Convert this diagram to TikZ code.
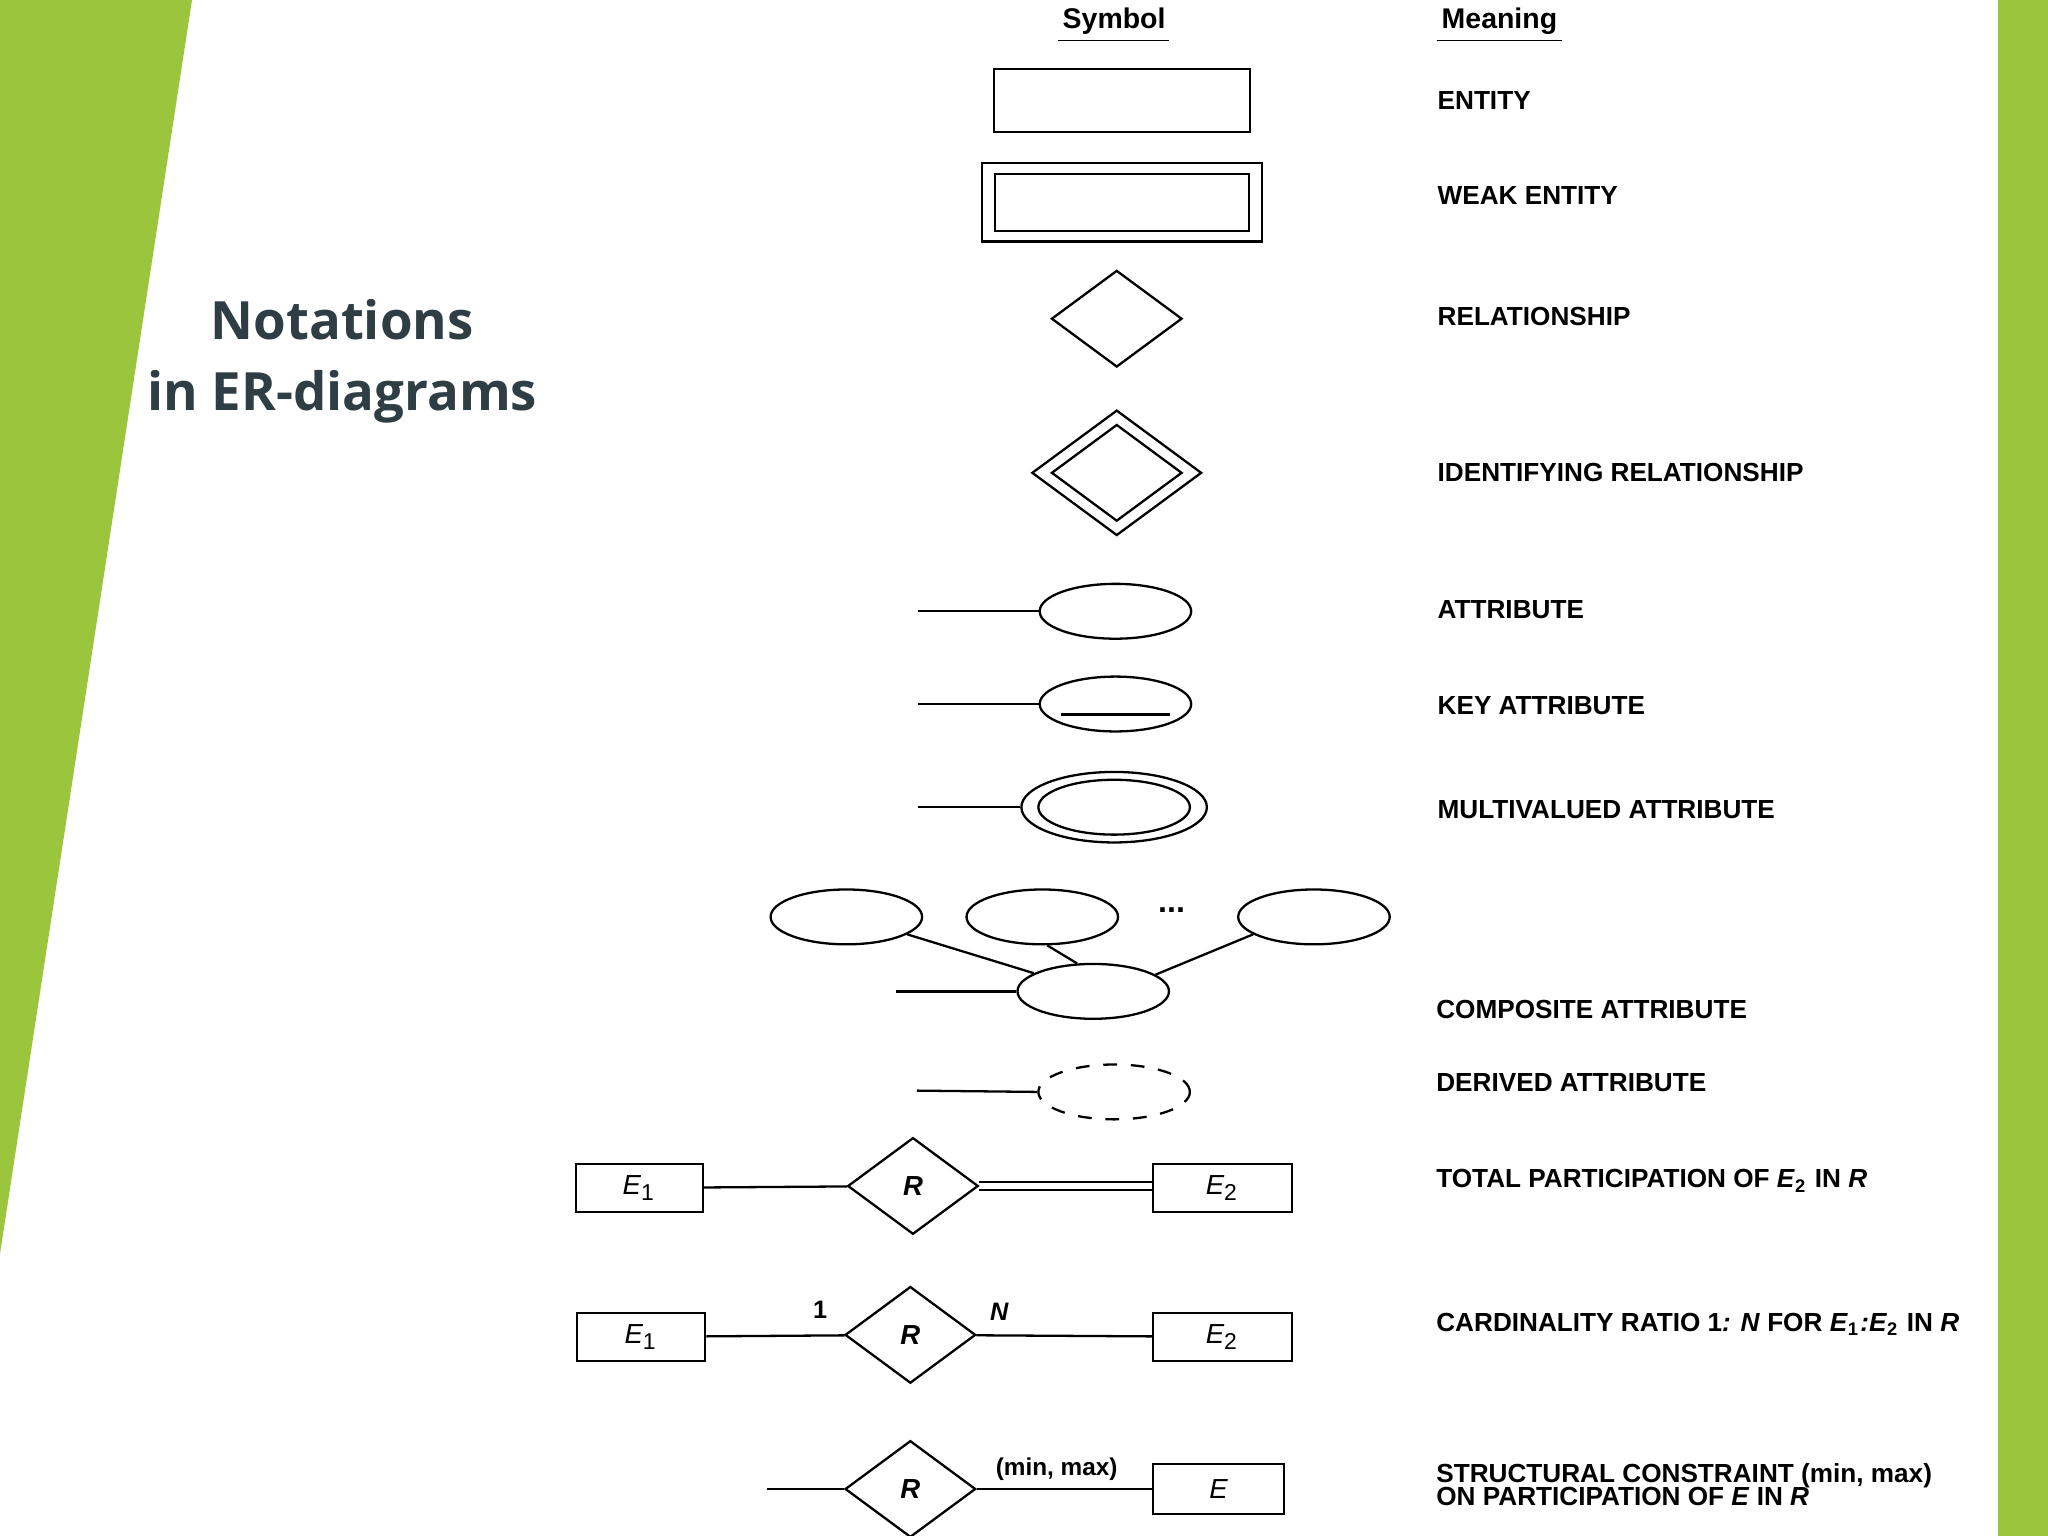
\documentclass[tikz,border=0pt]{standalone}
\usepackage{fontspec}
\setmainfont{Liberation Sans}
\newfontfamily\titlefont{Open Sans}
\usetikzlibrary{shapes.geometric}
\definecolor{lgreen}{HTML}{9BC53D}
\definecolor{slate}{HTML}{2E3E44}
\newcommand{\Eone}{\textit{E}\textsubscript{\upshape 1}}
\newcommand{\Etwo}{\textit{E}\textsubscript{\upshape 2}}
\tikzset{
 mean/.style={anchor=west,font=\fontsize{5.7}{6.5}\selectfont\bfseries,inner sep=0},
 sym/.style={draw,line width=0.5pt},
 ell/.style={sym,ellipse,minimum width=11.6mm,minimum height=4.2mm,inner sep=0},
 dia/.style={sym,diamond,minimum width=10mm,minimum height=7.4mm,inner sep=0,font=\fontsize{6}{7}\selectfont\bfseries\itshape},
 ebox/.style={sym,font=\fontsize{6}{7}\selectfont\itshape,inner sep=0},
}
\begin{document}
\begin{tikzpicture}[x=0.1mm,y=-0.1mm]
\useasboundingbox (0,0) rectangle (1568,1176);
\fill[lgreen] (0,0)--(147,0)--(0,960)--cycle;
\fill[lgreen] (1530,0) rectangle (1568,1176);
\node[text=slate,font=\titlefont\fontsize{11.5}{13}\selectfont\bfseries] (t1) at (262,245) {Notations};
\node[text=slate,font=\titlefont\fontsize{11.5}{13}\selectfont\bfseries] (t2) at (262,304) {in ER-diagrams};
% headers
\node[font=\fontsize{6.2}{7}\selectfont\bfseries] (hs) at (853,16) {Symbol};
\draw (810,31)--(895,31);
\node[font=\fontsize{6.2}{7}\selectfont\bfseries] (hm) at (1148,16) {Meaning};
\draw (1100,31)--(1196,31);
% entity
\draw[sym] (761,53) rectangle (957,101);
\draw[sym] (752,125) rectangle (966,185);
\draw[sym] (762,133) rectangle (956,177);
\node[dia] (r1) at (855,244) {};
\node[sym,diamond,minimum width=13mm,minimum height=9.6mm,inner sep=0] (r2o) at (855,362) {};
\node[sym,diamond,minimum width=10mm,minimum height=7.4mm,inner sep=0] (r2i) at (855,362) {};
% attributes
\node[ell] (a1) at (854,468) {};
\coordinate (a1l) at (703,468); \draw[sym] (a1l)--(a1.west);
\node[ell] (a2) at (854,539) {};
\draw[sym] (812,547)--(896,547);
\coordinate (a2l) at (703,539); \draw[sym] (a2l)--(a2.west);
\node[sym,ellipse,minimum width=14.2mm,minimum height=5.4mm,inner sep=0] (a3) at (853,618) {};
\node[ell] (a3i) at (853,618) {};
\coordinate (a3l) at (703,618); \draw[sym] (a3l)--(a3.west);
% composite
\node[ell] (c1) at (648,702) {};
\node[ell] (c2) at (798,702) {};
\node[ell] (c3) at (1006,702) {};
\node[ell] (c0) at (837,759) {};
\node[font=\fontsize{7}{8}\selectfont\bfseries] (dots) at (897,697) {...};
\coordinate (c0l) at (686,759); \draw[sym] (c0l)--(c0.west);
\draw[sym] (c1.-16)--(c0.163);
\draw[sym] (c2.-80)--(c0.120);
\draw[sym] (c3.-164)--(c0.15);
% derived
\node[ell,dashed] (d) at (853,836) {};
\coordinate (dl) at (702,835); \draw[sym] (dl)--(d.west);
% total participation
\node[ebox,minimum width=9.7mm,minimum height=3.7mm] (e1a) at (489.5,909.5) {\Eone};
\node[dia] (ra) at (699,908) {R};
\node[ebox,minimum width=10.6mm,minimum height=3.7mm] (e2a) at (936,909.5) {\Etwo};
\draw[sym] (e1a)--(ra);
\draw[sym] ([yshift=-0.3mm]ra.east)--([yshift=-0.3mm]ra.east-|e2a.west);
\draw[sym] ([yshift=0.3mm]ra.east)--([yshift=0.3mm]ra.east-|e2a.west);
% cardinality
\node[ebox,minimum width=9.8mm,minimum height=3.7mm] (e1b) at (491,1023.5) {\Eone};
\node[dia] (rb) at (697,1022) {R};
\node[ebox,minimum width=10.6mm,minimum height=3.7mm] (e2b) at (936,1023.5) {\Etwo};
\draw[sym] (e1b)--(rb); \draw[sym] (rb)--(e2b);
\node[font=\fontsize{5.5}{6}\selectfont\bfseries] (one) at (628,1003) {1};
\node[font=\fontsize{5.5}{6}\selectfont\bfseries\itshape] (nn) at (765,1004) {N};
% structural
\node[dia] (rc) at (697,1140) {R};
\node[ebox,minimum width=10mm,minimum height=3.8mm] (ec) at (933,1140) {E};
\coordinate (rcl) at (587,1140); \draw[sym] (rcl)--(rc.west);
\draw[sym] (rc)--(ec);
\node[font=\fontsize{5.3}{6}\selectfont\bfseries] (mm) at (809,1125) {(min, max)};
% meanings
\node[mean] (m1) at (1100,77) {ENTITY};
\node[mean] (m2) at (1100,150) {WEAK ENTITY};
\node[mean] (m3) at (1100,242) {RELATIONSHIP};
\node[mean] (m4) at (1100,362) {IDENTIFYING RELATIONSHIP};
\node[mean] (m5) at (1100,467) {ATTRIBUTE};
\node[mean] (m6) at (1100,540) {KEY ATTRIBUTE};
\node[mean] (m7) at (1100,620) {MULTIVALUED ATTRIBUTE};
\node[mean] (m8) at (1099,773) {COMPOSITE ATTRIBUTE};
\node[mean] (m9) at (1099,829) {DERIVED ATTRIBUTE};
\node[mean] (m10) at (1099,904) {TOTAL PARTICIPATION OF \Etwo{} IN \textit{R}};
\node[mean] (m11) at (1099,1014) {CARDINALITY RATIO 1\textit{: N} FOR \Eone\textit{:}\Etwo{} IN \textit{R}};
\node[mean,align=left] (m12) at (1099,1137) {STRUCTURAL CONSTRAINT (min, max)\\[-1.5pt]ON PARTICIPATION OF \textit{E} IN \textit{R}};
\end{tikzpicture}
\end{document}
